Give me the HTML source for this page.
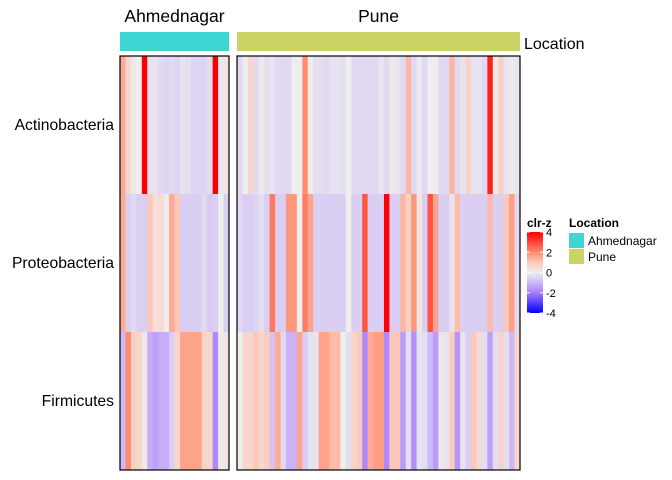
<!DOCTYPE html>
<html><head><meta charset="utf-8"><style>
body{margin:0;background:#fff}svg{display:block;font-family:"Liberation Sans",Arial,sans-serif}
</style></head><body>
<svg id="c" width="672" height="480"></svg>
<script>
const rows=["Actinobacteria","Proteobacteria","Firmicutes"];
const ahmedActino=[1.5,0.6,0.1,0,4,-0.2,-0.2,-0.4,-0.5,-0.4,-0.5,-0.2,-0.3,-0.5,-0.5,-0.5,-0.3,4,-0.1,0.3];
const ahmedProteo=[1.5,-0.6,-0.4,-0.6,-0.6,1.0,0.4,0.5,0.05,1.5,1.0,-0.6,-0.6,-0.6,-0.6,-0.4,-0.7,-0.6,0,-0.6];
const ahmedFirm=[-1.0,2.0,0.8,0.6,0.1,-1.2,-1.4,-1.2,-1.2,-0.6,0.6,1.6,1.6,1.6,1.6,0.7,0.6,-1.8,0.1,0.3];
const puneActino=[-0.4,0,0.6,-0.4,0.1,-0.3,-0.2,-0.4,-0.4,-0.4,0,0,2.0,0.05,-0.3,-0.3,-0.4,-0.2,-0.2,-0.3,0,-0.4,-0.4,-0.4,-0.4,-0.4,
 -0.2,-0.4,0.15,-0.2,-0.4,1.3,-0.4,-0.1,-0.4,0,0,-0.4,-0.4,1.3,-0.4,-0.2,0.7,-0.2,-0.2,-0.4,3.5,0.15,0.8,-0.2,0.15,-0.2];
const puneProteo=[-0.4,-0.6,-0.6,-0.5,-0.3,-0.6,2.3,-0.6,-0.6,1.8,1.8,0,2.2,1.6,-0.6,-0.6,-0.6,-0.6,-0.6,-0.6,0,-0.6,-0.6,2.8,-0.6,-0.6,
 -0.6,4,-0.6,-0.6,1.3,0.8,1.8,0.2,-0.6,2.8,1.6,-0.6,-0.6,-0.2,1.2,-0.6,-0.6,-0.6,-0.6,-0.6,1.2,-0.6,-0.6,1.0,1.7,-0.4];
const puneFirm=[0,0.6,0.6,1.0,0.6,0.9,-0.8,1.5,-0.4,-1.1,-1.1,1.6,-0.6,-0.2,-0.2,1.6,1.6,1.2,1.2,0,-0.3,0.7,0.9,-1.8,1.5,1.7,
 1.7,-1.8,1.0,1.0,-1.5,-0.3,-1.7,-0.2,-0.3,-1.0,-1.5,0.2,-0.2,0.9,-1.6,-0.2,-0.6,1.0,0.5,-0.3,-1.4,-0.3,0.7,-0.3,-1.0,0.6];
const legendTicks=[4,2,0,-2,-4];

const NS="http://www.w3.org/2000/svg",svg=document.getElementById('c');
function mk(t,a,p){const e=document.createElementNS(NS,t);for(const k in a)e.setAttribute(k,a[k]);(p||svg).appendChild(e);return e;}
const stops=[[-4,[0,0,255]],[-2,[165,125,250]],[-1,[205,185,247]],[0,[238,238,238]],[1,[252,200,185]],[2,[255,140,110]],[4,[255,0,0]]];
function col(v){v=Math.max(-4,Math.min(4,v));for(let i=0;i<stops.length-1;i++){const[a,ca]=stops[i],[b,cb]=stops[i+1];if(v<=b){const t=(v-a)/(b-a);return 'rgb('+ca.map((c,j)=>Math.round(c+(cb[j]-c)*t)).join(',')+')';}}return 'rgb(255,0,0)';}
const yTop=56,yBot=470,rh=(yBot-yTop)/3;
function yRow(i){return yTop+i*rh;}
const panels=[{name:"Ahmednagar",x0:120,x1:229,data:[ahmedActino,ahmedProteo,ahmedFirm],ann:"#3ed6d2"},
 {name:"Pune",x0:237,x1:520,data:[puneActino,puneProteo,puneFirm],ann:"#cbd367"}];
panels.forEach(p=>{
 const g=mk('g',{});
 
 
 const n=p.data[0].length,cw=(p.x1-p.x0)/n;
 p.data.forEach((arr,r)=>arr.forEach((v,c)=>{
  const e=mk('rect',{x:p.x0+c*cw,y:yRow(r),width:cw+0.4,height:rh+0.3,fill:col(v)},g);
  
  
 }));
 const b=mk('rect',{x:p.x0,y:yTop,width:p.x1-p.x0,height:yBot-yTop,fill:'none',stroke:'#000','stroke-width':1.2},g);
 
 const a=mk('rect',{x:p.x0,y:32,width:p.x1-p.x0,height:19,fill:p.ann});
 
 const t=mk('text',{x:(p.x0+p.x1)/2,y:22,'text-anchor':'middle','font-size':17.5});t.textContent=p.name;
 
});
const lt=mk('text',{x:524,y:49,'font-size':16});lt.textContent="Location";

rows.forEach((r,i)=>{const t=mk('text',{x:114,y:yRow(i)+rh/2+5,'text-anchor':'end','font-size':15.7});t.textContent=r;
 });
const lg=mk('text',{x:527,y:227,'font-size':12,'font-weight':'bold'});lg.textContent="clr-z";

const defs=mk('defs',{}),gr=mk('linearGradient',{id:'gz',x1:0,y1:0,x2:0,y2:1},defs);
for(let i=0;i<=16;i++){const v=4-i*0.5;mk('stop',{offset:(i/16),'stop-color':col(v)},gr);}
const bar=mk('rect',{x:527,y:232,width:16,height:81,fill:'url(#gz)'});

legendTicks.forEach(v=>{const y=232+(4-v)/8*81;
 mk('line',{x1:527,x2:530,y1:y,y2:y,stroke:'#fff'});mk('line',{x1:540,x2:543,y1:y,y2:y,stroke:'#fff'});
 const t=mk('text',{x:546,y:y+4,'font-size':11});t.textContent=v;
 });
const lt2=mk('text',{x:569,y:227,'font-size':12,'font-weight':'bold'});lt2.textContent="Location";

[["Ahmednagar","#3ed6d2"],["Pune","#cbd367"]].forEach((l,i)=>{
 const r=mk('rect',{x:569,y:233+i*16,width:15,height:15,fill:l[1]});
 
 const t=mk('text',{x:588,y:245+i*16,'font-size':12});t.textContent=l[0];
 });
</script>
</body></html>
